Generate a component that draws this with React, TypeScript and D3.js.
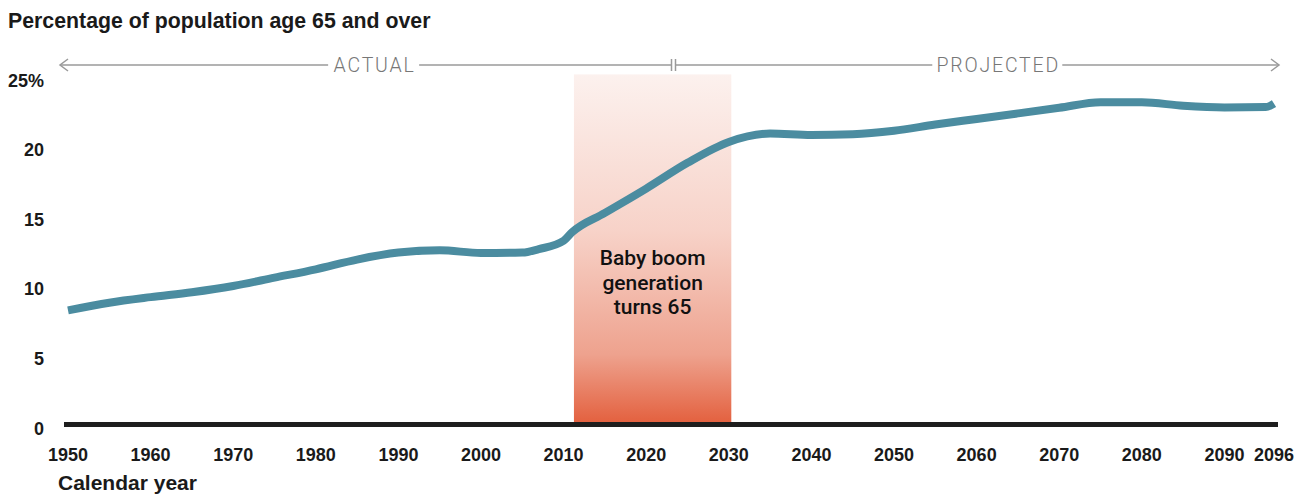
import React from 'react';
import * as d3 from 'd3';

// dados
const years = [1950, 1955, 1960, 1965, 1970, 1975, 1980, 1985, 1990, 1995, 2000, 2005, 2007, 2010, 2011, 2015, 2020, 2025, 2030, 2035, 2040, 2045, 2050, 2055, 2060, 2065, 2070, 2075, 2080, 2085, 2090, 2095, 2096];
const pct65 = [8.2, 8.75, 9.15, 9.5, 9.95, 10.55, 11.15, 11.85, 12.35, 12.52, 12.32, 12.35, 12.6, 13.2, 13.8, 15.2, 16.95, 18.8, 20.3, 20.9, 20.8, 20.85, 21.1, 21.55, 21.95, 22.35, 22.75, 23.15, 23.15, 22.9, 22.78, 22.8, 23.05];

const xTicks = [1950, 1960, 1970, 1980, 1990, 2000, 2010, 2020, 2030, 2040, 2050, 2060, 2070, 2080, 2090, 2096];
const yTicks = [0, 5, 10, 15, 20, 25];
const yTickLabels = ['0', '5', '10', '15', '20', '25%'];

const boomStart = 2011.25;
const boomEnd = 2030.3;
const boomLines = ['Baby boom', 'generation', 'turns 65'];
const splitYear = 2023;
const actualLabelYear = 1987;
const projectedLabelYear = 2062.5;

const width = 1311;
const height = 496;

export default function App() {
  const x = d3.scaleLinear().domain([1950, 2096]).range([68, 1274]);
  const y = d3.scaleLinear().domain([0, 25]).range([424.5, 76.5]);

  const line = d3
    .line<number>()
    .x((_, i) => x(years[i]))
    .y((d) => y(d))
    .curve(d3.curveMonotoneX);

  const arrowY = 65;
  const xs = x(splitYear);
  const left = x.range()[0] - 8;
  const right = x.range()[1] + 5;
  const boldFont = '"Liberation Sans", Arial, sans-serif';
  const cx = (x(boomStart) + x(boomEnd)) / 2;

  return (
    <svg width={width} height={height} style={{ position: 'absolute', left: 0, top: 0, background: '#fff' }}>
      <defs>
        <linearGradient id="boom" x1="0" y1="0" x2="0" y2="1">
          <stop offset="0" stopColor="#fcf1ee" />
          <stop offset="0.45" stopColor="#f7d2c8" />
          <stop offset="0.8" stopColor="#eea28e" />
          <stop offset="1" stopColor="#e35f3d" />
        </linearGradient>
      </defs>

      <text x={8} y={28} fontFamily={boldFont} fontWeight="bold" fontSize={21.3} fill="#1a1a1a">
        Percentage of population age 65 and over
      </text>

      {/* faixa baby boom */}
      <rect x={x(boomStart)} y={y(25.15)} width={x(boomEnd) - x(boomStart)} height={y(0) - y(25.15)} fill="url(#boom)" />
      {boomLines.map((t, i) => (
        <text key={t} x={cx} y={265 + i * 24.6} textAnchor="middle" fontFamily="Roboto, sans-serif" fontWeight={500} fontSize={21} fill="#111">
          {t}
        </text>
      ))}

      {/* setas actual / projected */}
      <g stroke="#9a9a9a" strokeWidth={1.5} fill="none">
        <line x1={left} y1={arrowY} x2={x(actualLabelYear) - 45.5} y2={arrowY} />
        <line x1={x(actualLabelYear) + 45.5} y1={arrowY} x2={xs} y2={arrowY} />
        <line x1={xs + 0.5} y1={arrowY - 6} x2={xs + 0.5} y2={arrowY + 6} />
        <line x1={xs + 4.5} y1={arrowY - 6} x2={xs + 4.5} y2={arrowY + 6} />
        <line x1={xs + 5} y1={arrowY} x2={x(projectedLabelYear) - 65} y2={arrowY} />
        <line x1={x(projectedLabelYear) + 65} y1={arrowY} x2={right} y2={arrowY} />
        <path d={`M${left + 8},${arrowY - 6}L${left},${arrowY}L${left + 8},${arrowY + 6}`} />
        <path d={`M${right - 8},${arrowY - 6}L${right},${arrowY}L${right - 8},${arrowY + 6}`} />
      </g>
      <text x={x(actualLabelYear) + 1} y={arrowY + 7} textAnchor="middle" fontFamily="Roboto, sans-serif" fontWeight={300} fontSize={19.5} letterSpacing={1.8} fill="#777">
        ACTUAL
      </text>
      <text x={x(projectedLabelYear) + 1} y={arrowY + 7} textAnchor="middle" fontFamily="Roboto, sans-serif" fontWeight={300} fontSize={19.5} letterSpacing={1.8} fill="#777">
        PROJECTED
      </text>

      {/* eixo y */}
      {yTicks.map((t, i) => (
        <text key={t} x={44} y={y(t) + 10} textAnchor="end" fontFamily={boldFont} fontWeight="bold" fontSize={18} fill="#1a1a1a">
          {yTickLabels[i]}
        </text>
      ))}

      {/* linha base */}
      <line x1={x.range()[0] - 4} x2={x.range()[1] + 4} y1={y(0)} y2={y(0)} stroke="#1e1e1e" strokeWidth={5} />

      {/* eixo x */}
      {xTicks.map((t) => (
        <text key={t} x={x(t)} y={461} textAnchor="middle" fontFamily={boldFont} fontWeight="bold" fontSize={18} fill="#1a1a1a">
          {t}
        </text>
      ))}
      <text x={58} y={490} fontFamily={boldFont} fontWeight="bold" fontSize={21} fill="#1a1a1a">
        Calendar year
      </text>

      {/* série */}
      <path d={line(pct65) || ''} fill="none" stroke="#4b8ca0" strokeWidth={8} />
    </svg>
  );
}
